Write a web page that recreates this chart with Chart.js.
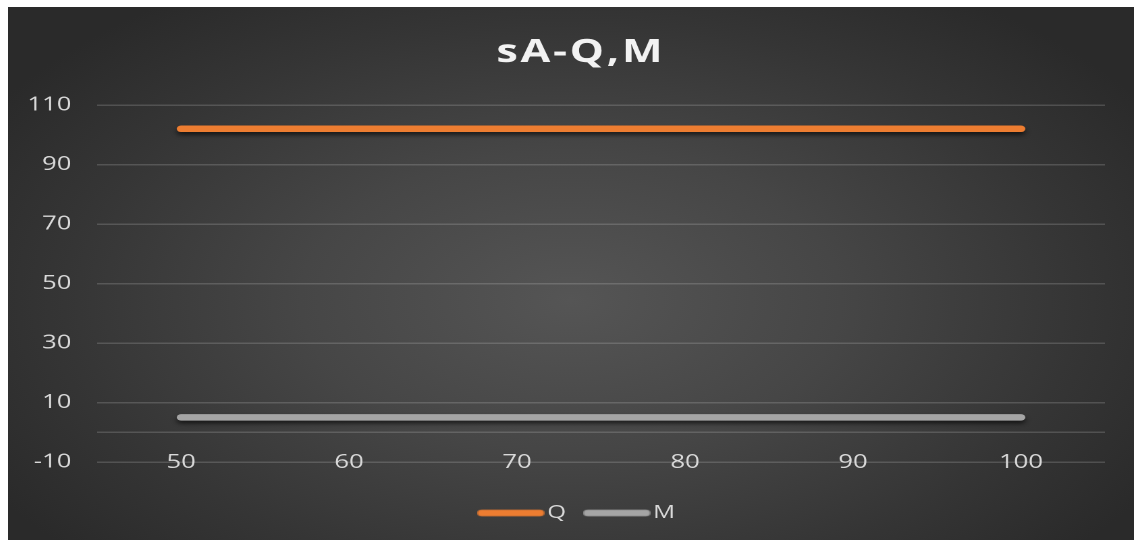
<!DOCTYPE html>
<html>
<head>
<meta charset="utf-8">
<script src="https://cdn.jsdelivr.net/npm/chart.js@4.4.1/dist/chart.umd.min.js"></script>
<style>
  html, body { margin: 0; padding: 0; background: #ffffff; }
  body { width: 1134px; height: 540px; overflow: hidden; position: relative; }
  /* dark panel with soft light in the middle */
  #panel {
    position: absolute; left: 8px; top: 7px; width: 1126px; height: 533px;
    background: radial-gradient(ellipse 60% 70% at 50% 55%, #555555 0%, #464646 40%, #353535 75%, #2a2a2a 100%);
    overflow: hidden;
  }
  /* chart drawn narrow then widened, like the wide office look */
  #wrap {
    position: absolute; left: 0; top: 0; width: 834px; height: 533px;
    transform: scaleX(1.3501); transform-origin: 0 0;
  }
</style>
</head>
<body>
<div id="panel">
  <div id="wrap"><canvas id="myChart"></canvas></div>
</div>
<script>
// valores de la grafica
const xValues = [50, 60, 70, 80, 90, 100];
const qValues = [102, 102, 102, 102, 102, 102];
const mValues = [5, 5, 5, 5, 5, 5];
const xTicks = [50, 60, 70, 80, 90, 100];
const yTicks = [-10, 10, 30, 50, 70, 90, 110];
const seriesNames = ['Q', 'M'];
const seriesColors = ['#ED7D31', '#A5A5A5'];

const DPR = 2;
const fontFam = "'Open Sans', sans-serif";

// trazo corto para la leyenda
function legendLine(color) {
  const c = document.createElement('canvas');
  c.width = 50;
  c.height = 8;
  const g = c.getContext('2d');
  g.strokeStyle = color;
  g.lineWidth = 6.5;
  g.lineCap = 'round';
  g.beginPath();
  g.moveTo(3.5, 4);
  g.lineTo(46.5, 4);
  g.stroke();
  return c;
}

// sombra debajo de las lineas
const lineShadow = {
  id: 'lineShadow',
  beforeDatasetsDraw(chart) {
    const ctx = chart.ctx;
    ctx.save();
    ctx.shadowColor = 'rgba(0,0,0,0.6)';
    ctx.shadowBlur = 4 * DPR;
    ctx.shadowOffsetY = 3 * DPR;
  },
  afterDatasetsDraw(chart) {
    chart.ctx.restore();
  }
};

// titulo con letras un poco separadas
const spacedTitle = {
  id: 'spacedTitle',
  beforeDraw(chart) {
    const tb = chart.titleBlock;
    if (!tb || tb._spaced) return;
    const orig = tb.draw.bind(tb);
    tb.draw = function (area) {
      const c = chart.ctx;
      c.save();
      c.letterSpacing = '2px';
      orig(area);
      c.restore();
    };
    tb._spaced = true;
  }
};

const toPoints = (ys) => xValues.map((x, i) => ({ x: x, y: ys[i] }));

const ctx = document.getElementById('myChart');

new Chart(ctx, {
  type: 'line',
  data: {
    datasets: [{
      label: seriesNames[0],
      data: toPoints(qValues),
      borderColor: seriesColors[0],
      backgroundColor: seriesColors[0],
      borderWidth: 6.5,
      borderCapStyle: 'round',
      pointRadius: 0,
      pointStyle: legendLine(seriesColors[0])
    }, {
      label: seriesNames[1],
      data: toPoints(mValues),
      borderColor: seriesColors[1],
      backgroundColor: seriesColors[1],
      borderWidth: 6.5,
      borderCapStyle: 'round',
      pointRadius: 0,
      pointStyle: legendLine(seriesColors[1])
    }]
  },
  options: {
    responsive: true,
    maintainAspectRatio: false,
    animation: false,
    devicePixelRatio: DPR,
    layout: { padding: { left: 14.5, right: 0, top: 0, bottom: 8 } },
    plugins: {
      title: {
        display: true,
        text: 'sA-Q,M',
        color: '#f2f2f2',
        font: { family: fontFam, size: 32, weight: 'bold', lineHeight: 1.2 },
        padding: { top: 26.8, bottom: 32.8 }
      },
      legend: {
        position: 'bottom',
        labels: {
          usePointStyle: true,
          pointStyleWidth: 36,
          color: '#d9d9d9',
          padding: 19.5,
          font: { family: fontFam, size: 18 }
        }
      },
      tooltip: { enabled: false }
    },
    scales: {
      x: {
        type: 'linear',
        min: 45,
        max: 105,
        afterBuildTicks: (scale) => { scale.ticks = xTicks.map(v => ({ value: v })); },
        afterFit: (scale) => { scale.height = 22.5; },
        grid: { display: false, drawTicks: false },
        border: { display: false },
        ticks: {
          color: '#d9d9d9',
          mirror: true,
          padding: -12,
          maxRotation: 0,
          font: { family: fontFam, size: 19 }
        }
      },
      y: {
        min: -10,
        max: 110,
        // la linea del cero es el eje horizontal, sin etiqueta
        afterBuildTicks: (scale) => { scale.ticks = [...yTicks, 0].sort((a, b) => a - b).map(v => ({ value: v })); },
        afterFit: (scale) => { scale.width = 51.5; },
        grid: { color: 'rgba(255,255,255,0.16)', lineWidth: 1.5, drawTicks: false },
        border: { display: false },
        ticks: {
          color: '#d9d9d9',
          padding: 19,
          font: { family: fontFam, size: 19 },
          callback: (v) => v === 0 ? '' : v
        }
      },
      // margen derecho vacio
      yRight: {
        position: 'right',
        afterFit: (scale) => { scale.width = 21.5; },
        grid: { display: false, drawTicks: false },
        border: { display: false },
        ticks: { display: false }
      }
    }
  },
  plugins: [lineShadow, spacedTitle]
});
</script>
</body>
</html>
